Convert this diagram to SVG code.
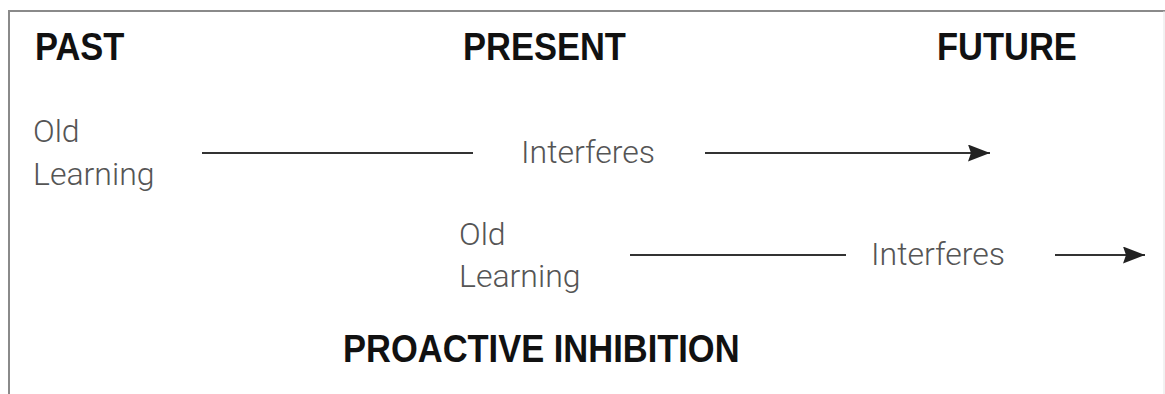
<svg xmlns="http://www.w3.org/2000/svg" width="1165" height="394" viewBox="0 0 1165 394">
  <style>
    .head { font-family: "Liberation Sans", Arial, sans-serif; font-weight: bold; font-size: 34.5px; fill: #111; }
    .lbl { font-family: Roboto, "Liberation Sans", sans-serif; font-weight: 300; font-size: 32px; fill: #555; }
    .conn { stroke: #333; stroke-width: 2.2; fill: none; }
    .frame { stroke: #8a8a8a; stroke-width: 2; fill: none; }
  </style>
  <defs>
    <marker id="arrow" markerUnits="userSpaceOnUse" markerWidth="24" markerHeight="18" refX="22" refY="8.5" orient="auto">
      <path d="M0,0 L22,8.5 L0,17 L3,8.5 Z" fill="#222"/>
    </marker>
  </defs>
  <rect width="1165" height="394" fill="#fff"/>
  <!-- open frame: top, left and a faint right edge -->
  <path class="frame" d="M9,394 L9,11 L1165,11"/>
  <line x1="1164" y1="11" x2="1164" y2="394" stroke="#e4e4e4" stroke-width="1"/>

  <!-- headings are stretched slightly taller than the stock bold face -->
  <g id="heading-past"><text class="head" transform="translate(35,60) scale(1,1.1)">PAST</text></g>
  <g id="heading-present"><text class="head" transform="translate(463,60) scale(1,1.1)">PRESENT</text></g>
  <g id="heading-future"><text class="head" transform="translate(937,60) scale(1,1.1)">FUTURE</text></g>

  <g id="old-learning-1">
    <text class="lbl" x="33" y="142">Old</text>
    <text class="lbl" x="33" y="185">Learning</text>
  </g>
  <g id="interferes-1"><text class="lbl" x="521" y="163">Interferes</text></g>

  <g id="old-learning-2">
    <text class="lbl" x="459" y="245">Old</text>
    <text class="lbl" x="459" y="287">Learning</text>
  </g>
  <g id="interferes-2"><text class="lbl" x="871" y="265">Interferes</text></g>

  <g id="connectors">
    <line class="conn" x1="202" y1="153" x2="473" y2="153"/>
    <line class="conn" x1="705" y1="153" x2="990" y2="153" marker-end="url(#arrow)"/>
    <line class="conn" x1="630" y1="255" x2="846" y2="255"/>
    <line class="conn" x1="1055" y1="255" x2="1145" y2="255" marker-end="url(#arrow)"/>
  </g>

  <g id="title"><text class="head" transform="translate(343,362) scale(1,1.1)">PROACTIVE INHIBITION</text></g>
</svg>
